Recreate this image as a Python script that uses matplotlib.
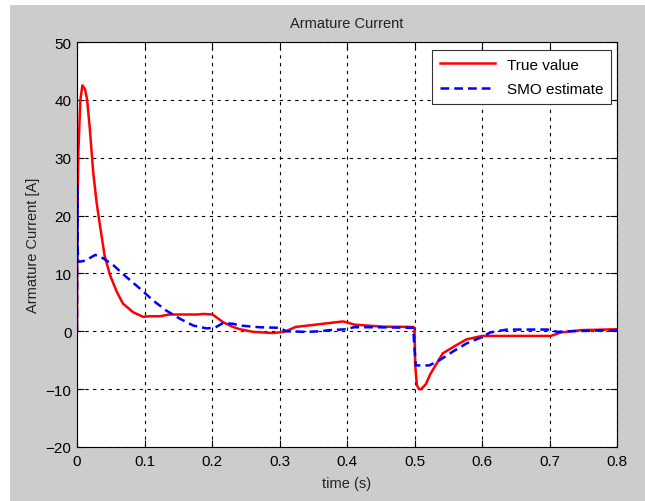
import matplotlib.pyplot as plt
from matplotlib.patches import Rectangle

plt.rcParams['font.family'] = ['Liberation Sans', 'DejaVu Sans']

# true armature current
t_true = [0.0, 0.0005, 0.002, 0.005, 0.008, 0.012, 0.015, 0.019, 0.024, 0.029,
          0.034, 0.041, 0.049, 0.059, 0.068, 0.083, 0.098, 0.108, 0.123, 0.137,
          0.179, 0.187, 0.201, 0.216, 0.231, 0.2415, 0.261, 0.29, 0.307, 0.324,
          0.354, 0.379, 0.394, 0.401, 0.411, 0.453, 0.498, 0.5, 0.501, 0.5035,
          0.5065, 0.51, 0.517, 0.523, 0.53, 0.542, 0.562, 0.577, 0.6, 0.607,
          0.702, 0.717, 0.747, 0.8]
i_true = [0.0, 20.0, 31.0, 40.0, 42.5, 41.8, 40.0, 35.0, 27.5, 22.3,
          18.3, 13.0, 9.7, 6.8, 4.8, 3.3, 2.5, 2.6, 2.6, 2.9,
          2.9, 3.0, 2.9, 1.6, 0.75, 0.35, -0.1, -0.3, -0.1, 0.75,
          1.15, 1.5, 1.7, 1.5, 1.15, 0.8, 0.75, 0.6, -5.8, -9.3,
          -10.0, -10.0, -9.1, -7.5, -6.1, -3.8, -2.4, -1.4, -0.8, -0.8,
          -0.8, -0.2, 0.2, 0.35]

# sliding mode observer estimate
t_smo = [0.0, 0.0005, 0.001, 0.002, 0.012, 0.027, 0.039, 0.054, 0.073, 0.093,
         0.113, 0.132, 0.152, 0.172, 0.192, 0.204, 0.216, 0.231, 0.2415, 0.27,
         0.3, 0.31, 0.34, 0.36, 0.374, 0.4, 0.41, 0.44, 0.498, 0.5,
         0.502, 0.522, 0.537, 0.557, 0.577, 0.6, 0.612, 0.637, 0.697, 0.712,
         0.727, 0.8]
i_smo = [0.0, 25.2, 14.3, 12.0, 12.2, 13.2, 12.6, 11.4, 9.4, 7.4,
         5.3, 3.6, 2.2, 1.0, 0.5, 0.6, 1.4, 1.3, 1.0, 0.7,
         0.6, 0.0, -0.1, 0.0, 0.2, 0.35, 0.7, 0.7, 0.6, -3.0,
         -5.9, -5.9, -5.0, -3.5, -2.1, -1.0, -0.2, 0.3, 0.3, -0.1,
         0.0, 0.2]

xticks = [0, 0.1, 0.2, 0.3, 0.4, 0.5, 0.6, 0.7, 0.8]
yticks = [-20, -10, 0, 10, 20, 30, 40, 50]

fig = plt.figure(figsize=(6.45, 5.02), dpi=100, facecolor='white')
# grey figure area, white strip on top and left
fig.patches.append(Rectangle((10 / 645, 0), 1, 1 - 6 / 502, transform=fig.transFigure,
                             facecolor='#cccccc', edgecolor='none', zorder=-10))

ax = fig.add_axes([77 / 645, 1 - 448 / 502, 540 / 645, 405 / 502])
ax.set_facecolor('white')

ax.plot(t_true, i_true, color='red', lw=1.8, label='True value')
ax.plot(t_smo, i_smo, color='blue', lw=1.8, ls=(0, (3.5, 2)), label='SMO estimate')

ax.set_xlim(0, 0.8)
ax.set_ylim(-20, 50)
ax.set_xticks(xticks)
ax.set_yticks(yticks)
ax.set_xticklabels(['0', '0.1', '0.2', '0.3', '0.4', '0.5', '0.6', '0.7', '0.8'])
ax.tick_params(direction='in', length=5, width=0.8, top=True, right=True,
               labelsize=11, colors='black', pad=4)
ax.tick_params(axis='x', pad=5)
ax.grid(True, color='black', ls=(0, (3, 4)), lw=0.8)
for s in ax.spines.values():
    s.set_linewidth(0.8)
    s.set_color('black')

ax.set_title('Armature Current', fontsize=10.5, pad=11, color='#222222')
ax.set_xlabel('time (s)', fontsize=10.5, labelpad=6, color='#222222')
ax.set_ylabel('Armature Current [A]', fontsize=10.5, labelpad=4, color='#222222')

# legend box sits just under the top edge, as in the original
leg = ax.legend(loc='upper right', bbox_to_anchor=(0.989, 0.980), borderaxespad=0,
                fontsize=11, fancybox=False, framealpha=1, edgecolor='#333333',
                handlelength=3.6, borderpad=0.5, labelspacing=0.7)
leg.get_frame().set_linewidth(0.8)

fig.savefig('out.png', dpi=100, facecolor=fig.get_facecolor())
